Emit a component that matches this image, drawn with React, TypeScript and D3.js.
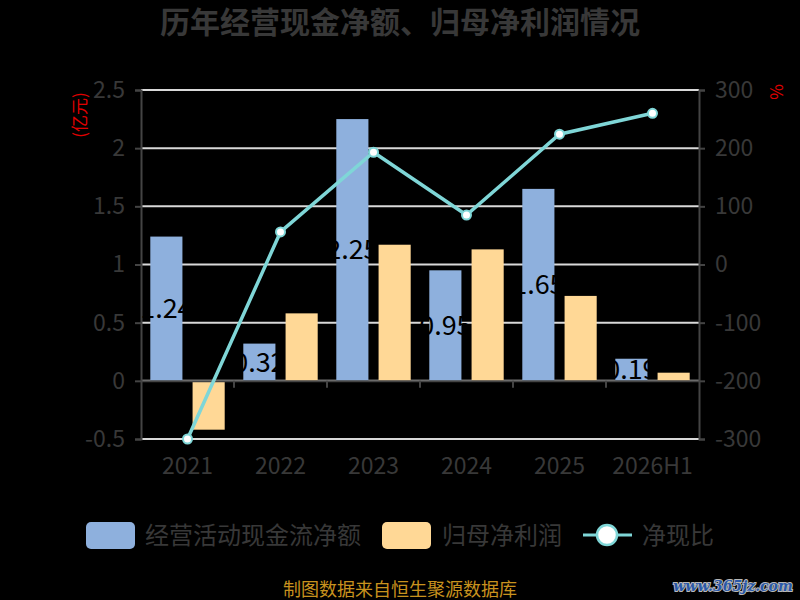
import React, { useEffect, useRef } from "react";
import * as d3 from "d3";

const categories = ["2021", "2022", "2023", "2024", "2025", "2026H1"];
const cashFlow = [1.24, 0.32, 2.25, 0.95, 1.65, 0.19];
const netProfit = [-0.42, 0.58, 1.17, 1.13, 0.73, 0.07];
const cashRatio = [-300, 56, 193, 85, 224, 260];
const leftTicks = [-0.5, 0, 0.5, 1, 1.5, 2, 2.5];
const rightTicks = [-300, -200, -100, 0, 100, 200, 300];
const seriesNames = ["经营活动现金流净额", "归母净利润", "净现比"];

const FONT = "'Noto Sans CJK SC', 'Open Sans', sans-serif";
const BLUE = "#8eb0dd";
const ORANGE = "#ffd896";
const TEAL = "#7fd6d7";
const TEXT = "#383838";

const App: React.FC = () => {
  const ref = useRef<SVGSVGElement | null>(null);

  useEffect(() => {
    document.body.style.margin = "0";
    document.body.style.background = "#000";

    const svg = d3.select(ref.current);
    svg.selectAll("*").remove();

    const left = 141;
    const right = 699;
    const top = 90;
    const bottom = 439;

    const x0 = d3.scaleBand().domain(categories).range([left, right]);
    const x1 = d3
      .scaleBand()
      .domain(["cash", "profit"])
      .range([0, x0.bandwidth()])
      .paddingInner(0.24)
      .paddingOuter(0.22);
    const y = d3.scaleLinear().domain([-0.5, 2.5]).range([bottom, top]);
    const yr = d3.scaleLinear().domain([-300, 300]).range([bottom, top]);

    svg.append("rect").attr("width", 800).attr("height", 600).attr("fill", "#000");

    // title
    svg
      .append("text")
      .attr("x", 400)
      .attr("y", 33)
      .attr("text-anchor", "middle")
      .style("font-family", FONT)
      .style("font-size", "30px")
      .style("font-weight", "bold")
      .attr("fill", TEXT)
      .text("历年经营现金净额、归母净利润情况");

    // grid lines
    svg
      .append("g")
      .selectAll("line")
      .data(leftTicks)
      .join("line")
      .attr("x1", left)
      .attr("x2", right)
      .attr("y1", (d) => y(d))
      .attr("y2", (d) => y(d))
      .attr("stroke", "#d9d9d9")
      .attr("stroke-width", 2);

    // left axis
    const gl = svg
      .append("g")
      .attr("transform", `translate(${left},0)`)
      .call(d3.axisLeft(y).tickValues(leftTicks).tickSize(6).tickPadding(10).tickFormat((d) => String(d)));
    gl.select(".domain").attr("stroke", "#444").attr("stroke-width", 2);
    gl.selectAll(".tick line").attr("stroke", "#444").attr("stroke-width", 2);
    gl.selectAll(".tick text")
      .attr("fill", TEXT)
      .style("font-family", FONT)
      .style("font-size", "23px");

    // right axis
    const gr = svg
      .append("g")
      .attr("transform", `translate(${right},0)`)
      .call(d3.axisRight(yr).tickValues(rightTicks).tickSize(6).tickPadding(10).tickFormat((d) => String(d)));
    gr.select(".domain").attr("stroke", "#444").attr("stroke-width", 2);
    gr.selectAll(".tick line").attr("stroke", "#444").attr("stroke-width", 2);
    gr.selectAll(".tick text")
      .attr("fill", TEXT)
      .style("font-family", FONT)
      .style("font-size", "23px");

    // unit labels
    svg
      .append("text")
      .attr("transform", `translate(86,115) rotate(-90)`)
      .attr("text-anchor", "middle")
      .style("font-family", FONT)
      .style("font-size", "17px")
      .attr("fill", "#e00000")
      .text("(亿元)");
    svg
      .append("text")
      .attr("transform", `translate(783,92) rotate(-90)`)
      .attr("text-anchor", "middle")
      .style("font-family", FONT)
      .style("font-size", "17px")
      .attr("fill", "#e00000")
      .text("%");

    // bars
    const groups = svg
      .append("g")
      .selectAll("g")
      .data(categories)
      .join("g")
      .attr("transform", (d) => `translate(${x0(d)},0)`);

    groups
      .append("rect")
      .attr("x", x1("cash")!)
      .attr("width", x1.bandwidth())
      .attr("y", (_, i) => Math.min(y(cashFlow[i]), y(0)))
      .attr("height", (_, i) => Math.abs(y(cashFlow[i]) - y(0)))
      .attr("fill", BLUE);

    groups
      .append("rect")
      .attr("x", x1("profit")!)
      .attr("width", x1.bandwidth())
      .attr("y", (_, i) => Math.min(y(netProfit[i]), y(0)))
      .attr("height", (_, i) => Math.abs(y(netProfit[i]) - y(0)))
      .attr("fill", ORANGE);

    // bar labels (black, centred inside the blue bars)
    groups
      .append("text")
      .attr("x", x1("cash")! + x1.bandwidth() / 2)
      .attr("y", (_, i) => (y(cashFlow[i]) + y(0)) / 2)
      .attr("dy", "0.35em")
      .attr("text-anchor", "middle")
      .style("font-family", FONT)
      .style("font-size", "27px")
      .attr("fill", "#000")
      .text((_, i) => cashFlow[i].toFixed(2));

    // x axis at zero
    const gx = svg
      .append("g")
      .attr("transform", `translate(0,${y(0)})`)
      .call(d3.axisBottom(x0).tickSize(0).tickFormat(() => ""));
    gx.select(".domain").attr("stroke", "#444").attr("stroke-width", 2);
    svg
      .append("g")
      .selectAll("line")
      .data(categories.slice(1))
      .join("line")
      .attr("x1", (d) => x0(d)!)
      .attr("x2", (d) => x0(d)!)
      .attr("y1", y(0))
      .attr("y2", y(0) + 7)
      .attr("stroke", "#444")
      .attr("stroke-width", 2);

    // category labels below plot
    svg
      .append("g")
      .selectAll("text")
      .data(categories)
      .join("text")
      .attr("x", (d) => x0(d)! + x0.bandwidth() / 2)
      .attr("y", 474)
      .attr("text-anchor", "middle")
      .style("font-family", FONT)
      .style("font-size", "23px")
      .attr("fill", TEXT)
      .text((d) => d);

    // ratio line
    const line = d3
      .line<number>()
      .x((_, i) => x0(categories[i])! + x0.bandwidth() / 2)
      .y((d) => yr(d));
    svg
      .append("path")
      .datum(cashRatio)
      .attr("d", line)
      .attr("fill", "none")
      .attr("stroke", TEAL)
      .attr("stroke-width", 3.5);
    svg
      .append("g")
      .selectAll("circle")
      .data(cashRatio)
      .join("circle")
      .attr("cx", (_, i) => x0(categories[i])! + x0.bandwidth() / 2)
      .attr("cy", (d) => yr(d))
      .attr("r", 4.5)
      .attr("fill", "#fff")
      .attr("stroke", TEAL)
      .attr("stroke-width", 2);

    // legend
    const legend = svg.append("g").style("font-family", FONT).style("font-size", "24px");
    legend.append("rect").attr("x", 86).attr("y", 522).attr("width", 49).attr("height", 27).attr("rx", 5).attr("fill", BLUE);
    legend.append("text").attr("x", 145).attr("y", 544).attr("fill", TEXT).text(seriesNames[0]);
    legend.append("rect").attr("x", 382).attr("y", 522).attr("width", 49).attr("height", 27).attr("rx", 5).attr("fill", ORANGE);
    legend.append("text").attr("x", 442).attr("y", 544).attr("fill", TEXT).text(seriesNames[1]);
    legend.append("line").attr("x1", 583).attr("x2", 632).attr("y1", 535).attr("y2", 535).attr("stroke", TEAL).attr("stroke-width", 3);
    legend.append("circle").attr("cx", 607).attr("cy", 535).attr("r", 10).attr("fill", "#fff").attr("stroke", TEAL).attr("stroke-width", 2.5);
    legend.append("text").attr("x", 642).attr("y", 544).attr("fill", TEXT).text(seriesNames[2]);

    // source
    svg
      .append("text")
      .attr("x", 400)
      .attr("y", 596)
      .attr("text-anchor", "middle")
      .style("font-family", FONT)
      .style("font-size", "18px")
      .attr("fill", "#c8921e")
      .text("制图数据来自恒生聚源数据库");

    // watermark
    svg
      .append("text")
      .attr("x", 733)
      .attr("y", 591)
      .attr("text-anchor", "middle")
      .style("font-family", "'DejaVu Serif', serif")
      .style("font-size", "14px")
      .style("font-weight", "bold")
      .style("font-style", "italic")
      .style("paint-order", "stroke")
      .attr("fill", "#2a58a8")
      .attr("stroke", "#b8b8b8")
      .attr("stroke-width", 2)
      .text("www.365jz.com");
  }, []);

  return (
    <div style={{ position: "absolute", left: 0, top: 0, width: 800, height: 600, background: "#000" }}>
      <svg ref={ref} width={800} height={600} style={{ display: "block" }} />
    </div>
  );
};

export default App;
